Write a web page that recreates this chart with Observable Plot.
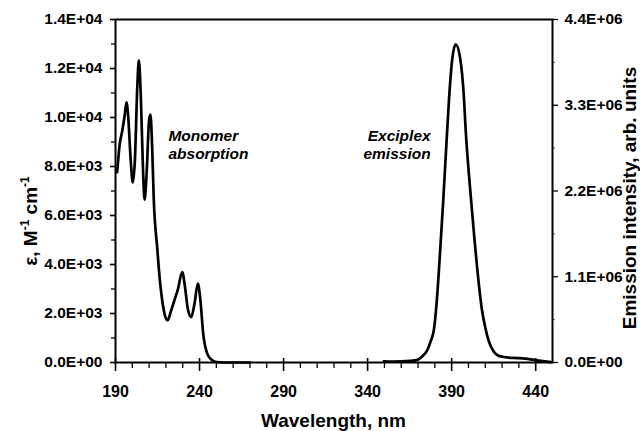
<!DOCTYPE html>
<html><head><meta charset="utf-8">
<script src="https://cdn.jsdelivr.net/npm/d3@7"></script>
<script src="https://cdn.jsdelivr.net/npm/@observablehq/plot@0.6"></script>
<style>
html,body{margin:0;padding:0;background:#fff;}
#chart svg{display:block;}
</style></head><body><div id="chart"></div>
<script>
// ---- data ----
const absWavelength = [191, 192.5, 194, 195.5, 196.5, 197.5, 199, 200.3, 201.5, 203, 203.9, 205, 206.3, 207.3, 208.5, 210, 210.8, 211.8, 212.8, 214.8, 216.4, 217.8, 219.5, 221, 223, 225, 227, 229.7, 231.5, 233, 235, 237, 239, 240.5, 242.2, 244.6, 247, 250, 255, 262, 270];
const absEpsilon    = [7770, 8900, 9450, 10100, 10620, 10100, 8300, 7350, 8200, 11300, 12330, 11000, 8000, 6650, 7700, 9900, 10120, 8800, 6600, 4700, 3350, 2530, 1900, 1720, 2100, 2530, 2950, 3690, 3000, 2200, 1850, 2400, 3220, 2550, 1170, 360, 120, 20, 0, 0, 0];

const emWavelength = [349.7, 355, 360, 365, 369, 371.5, 373.5, 375.5, 377.5, 379.5, 381, 383.5, 385, 387, 388.5, 390.4, 392.4, 395, 397.3, 398.3, 401.5, 403.3, 406.2, 408, 410, 412, 415, 418, 423, 430, 437, 443, 449];
const emIntensity  = [15000, 12000, 14000, 20000, 30000, 60000, 100000, 160000, 270000, 430000, 750000, 1550000, 2080000, 2850000, 3400000, 3900000, 4080000, 3910000, 3400000, 3000000, 2100000, 1650000, 1000000, 680000, 450000, 280000, 140000, 85000, 65000, 55000, 40000, 20000, 5000];

const xDomain = [190, 450];
const leftDomain = [0, 14000];
const rightMax = 4.4e6;
const xMajorTicks = [190, 240, 290, 340, 390, 440];
const xMinorTicks = [200, 210, 220, 230, 250, 260, 270, 280, 300, 310, 320, 330, 350, 360, 370, 380, 400, 410, 420, 430];
const leftMajorTicks = [0, 2000, 4000, 6000, 8000, 10000, 12000, 14000];
const leftMinorTicks = [1000, 3000, 5000, 7000, 9000, 11000, 13000];
const rightMajorTicks = [0, 1.1e6, 2.2e6, 3.3e6, 4.4e6];
const rightMinorTicks = [0.55e6, 1.65e6, 2.75e6, 3.85e6];
const annotationTexts = ["Monomer\nabsorption", "Exciplex\nemission"];
const xTitle = "Wavelength, nm";
const rightTitle = "Emission intensity, arb. units";

// ---- helpers ----
const k = leftDomain[1] / rightMax;
function sci(v) {
  v = Math.round(v);
  if (v === 0) return "0.0E+00";
  let e = Math.floor(Math.log10(v));
  let m = v / Math.pow(10, e);
  if (m.toFixed(1) === "10.0") { e += 1; m = v / Math.pow(10, e); }
  return m.toFixed(1) + "E+" + String(e).padStart(2, "0");
}
const FONT = "'Liberation Sans', Arial, Helvetica, sans-serif";
const absData = absWavelength.map((w, i) => ({w, v: absEpsilon[i]}));
const emData = emWavelength.map((w, i) => ({w, v: emIntensity[i] * k}));

const chart = Plot.plot({
  width: 640, height: 431,
  marginTop: 19, marginRight: 88, marginBottom: 69, marginLeft: 115,
  style: {fontFamily: FONT, fontWeight: "bold", fontSize: "16px", color: "black", background: "white"},
  x: {domain: xDomain},
  y: {domain: leftDomain},
  marks: [
    Plot.line(absData, {x: "w", y: "v", stroke: "black", strokeWidth: 2.7, curve: "monotone-x"}),
    Plot.line(emData, {x: "w", y: "v", stroke: "black", strokeWidth: 2.7, curve: "monotone-x"}),
    Plot.axisX({ticks: xMajorTicks, tickSize: 0, tickPadding: 23, tickFormat: d => String(d), label: null, fontSize: 16, fontWeight: "bold"}),
    Plot.ruleX(xMajorTicks, {x: d => d, y1: 0, y2: 0, insetTop: -4, insetBottom: -9, stroke: "black", strokeWidth: 1.6}),
    Plot.ruleX(xMinorTicks, {x: d => d, y1: 0, y2: 0, insetBottom: -6, stroke: "black", strokeWidth: 1.3}),
    Plot.axisY({anchor: "left", ticks: leftMajorTicks, tickSize: 5, tickPadding: 8, tickFormat: sci, label: null, strokeWidth: 1.6, fontSize: 15.5, fontWeight: "bold"}),
    Plot.ruleY(leftMinorTicks, {y: d => d, x1: xDomain[0], x2: xDomain[0], insetLeft: -4, stroke: "black", strokeWidth: 1.3}),
    Plot.axisY({anchor: "right", ticks: rightMajorTicks.map(v => v * k), tickSize: 5, tickPadding: 7, tickFormat: d => sci(d / k), label: null, strokeWidth: 1.3, fontSize: 15.5, fontWeight: "bold"}),
    Plot.ruleY(rightMinorTicks.map(v => v * k), {y: d => d, x1: xDomain[1], x2: xDomain[1], insetRight: -3, stroke: "#555", strokeWidth: 1}),
    Plot.frame({stroke: "black", strokeWidth: 2}),
    Plot.text([annotationTexts[0]], {x: 221.5, y: 9550, text: d => d, textAnchor: "start", lineAnchor: "top", fontSize: 15.5, fontStyle: "italic", fontWeight: "bold", lineHeight: 1.16}),
    Plot.text([annotationTexts[1]], {x: 377.5, y: 9550, text: d => d, textAnchor: "end", lineAnchor: "top", fontSize: 15.5, fontStyle: "italic", fontWeight: "bold", lineHeight: 1.16})
  ]
});
document.getElementById("chart").appendChild(chart);
const svg = d3.select(chart);

// ---- axis titles ----
svg.append("text")
  .attr("x", 333.5).attr("y", 427)
  .attr("text-anchor", "middle")
  .attr("font-family", FONT).attr("font-weight", "bold").attr("font-size", 19)
  .attr("fill", "black")
  .text(xTitle);
svg.append("text")
  .attr("transform", "translate(636,198) rotate(-90)")
  .attr("text-anchor", "middle")
  .attr("font-family", FONT).attr("font-weight", "bold").attr("font-size", 19)
  .attr("fill", "black")
  .text(rightTitle);
const lt = svg.append("text")
  .attr("transform", "translate(37,221) rotate(-90)")
  .attr("text-anchor", "middle")
  .attr("font-family", FONT).attr("font-weight", "bold").attr("font-size", 19)
  .attr("fill", "black");
lt.append("tspan").text("ε, M");
lt.append("tspan").attr("dy", -8).attr("font-size", 12).text("-1");
lt.append("tspan").attr("dy", 8).text(" cm");
lt.append("tspan").attr("dy", -8).attr("font-size", 12).text("-1");
</script>
</body></html>
